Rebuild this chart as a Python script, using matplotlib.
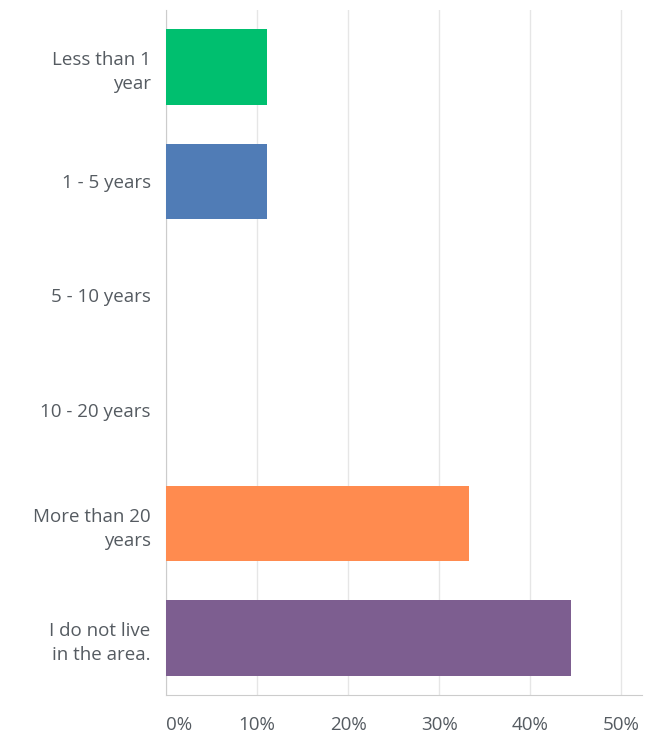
import matplotlib
matplotlib.use("Agg")
import matplotlib.pyplot as plt
from matplotlib.ticker import FuncFormatter

categories = ["Less than 1\nyear", "1 - 5 years", "5 - 10 years", "10 - 20 years",
              "More than 20\nyears", "I do not live\nin the area."]
values = [11.11, 11.11, 0, 0, 33.33, 44.44]
colors = ["#00BF6F", "#507CB6", "#6BC8CD", "#F9BE00", "#FF8B4F", "#7D5E90"]
xticks = [0, 10, 20, 30, 40, 50]

plt.rcParams['font.family'] = ['Open Sans', 'DejaVu Sans']

fig = plt.figure(figsize=(6.46, 7.39), dpi=100)
ax = fig.add_axes([0.257, 0.0595, 0.737, 0.927])

y = list(range(len(categories)))
ax.barh(y, values, height=0.66, color=colors, zorder=3)
ax.set_ylim(len(categories) - 0.5, -0.5)
ax.set_xlim(0, 52.3)
ax.set_yticks(y)
ax.set_yticklabels(categories, fontsize=13.5, color="#555b61", linespacing=1.45)
ax.set_xticks(xticks)
ax.xaxis.set_major_formatter(FuncFormatter(lambda v, p: f"{v:.0f}%"))
ax.tick_params(axis='x', length=0, pad=15, labelsize=13.5, labelcolor="#555b61")
ax.tick_params(axis='y', length=0, pad=11)
ax.get_xticklabels()[0].set_horizontalalignment('left')
ax.grid(axis='x', color="#e6e6e6", linewidth=1, zorder=0)
for s in ["top", "right"]:
    ax.spines[s].set_visible(False)
ax.spines["left"].set_color("#cccccc")
ax.spines["bottom"].set_color("#cccccc")

fig.savefig("out.png", dpi=100)
